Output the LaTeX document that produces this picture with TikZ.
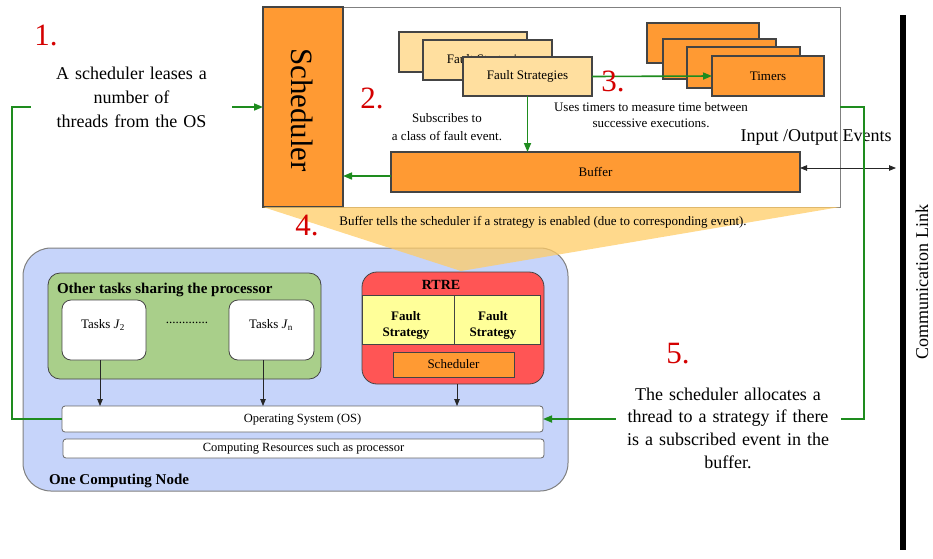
\documentclass[tikz,border=0pt]{standalone}
\usepackage{fontspec}
\setmainfont{Liberation Serif}
\usetikzlibrary{arrows.meta}

\definecolor{orangefill}{HTML}{FF9A33}
\definecolor{paleorange}{HTML}{FFDF9F}
\definecolor{calloutfill}{HTML}{FFCC66}
\definecolor{nodeblue}{HTML}{C6D4FA}
\definecolor{taskgreen}{HTML}{A9CF8A}
\definecolor{rtrered}{HTML}{FF5555}
\definecolor{cellyellow}{HTML}{FFFF99}
\definecolor{linkgreen}{HTML}{1E8C1E}
\definecolor{stepred}{HTML}{D40000}
\definecolor{edgegray}{HTML}{444444}
\definecolor{framegray}{HTML}{808080}

\newcommand\fsz[2]{\fontsize{#1}{#2}\selectfont}

\tikzset{
  every node/.style={inner sep=0pt, outer sep=0pt},
  rect/.style 2 args={minimum width=#1, minimum height=#2},
  framebox/.style={draw=framegray, line width=1pt, fill=white},
  orangebox/.style={draw=edgegray, line width=1.2pt, fill=orangefill, font=\fsz{13}{15}},
  palebox/.style={draw=edgegray, line width=1.2pt, fill=paleorange, font=\fsz{13}{15}},
  whitebox/.style={draw=edgegray!80, line width=0.8pt, fill=white, rounded corners=3pt, font=\fsz{12.5}{15}},
  taskbox/.style={draw=edgegray, line width=0.8pt, fill=white, rounded corners=9pt},
  greenline/.style={draw=linkgreen, line width=1.6pt},
  greentip/.style={-{Triangle[length=9pt,width=7pt]}},
  blackarrow/.style={draw=black!85, line width=0.8pt, -{Triangle[length=7pt,width=5.5pt]}},
  stepnum/.style={text=stepred, font=\fsz{31}{34}},
  note/.style={font=\fsz{13}{16}, align=center},
  bignote/.style={font=\fsz{18}{24}, align=center},
}

\begin{document}
\begin{tikzpicture}[x=1pt, y=-1pt]
\useasboundingbox (0,0) rectangle (933,558);

% ---------- expanded view of the run-time environment ----------
\node[framebox, rect={577pt}{200pt}] (zoom) at (551.5,107) {};
\node[orangebox, rect={80pt}{200pt}] (sched) at (303,107) {};
\node[rotate=-90, font=\fsz{31}{36}] (schedtext) at (302,110) {Scheduler};

% stacked fault strategies
\node[palebox, rect={128pt}{40pt}] (fs1) at (463,52) {Fault Strategies};
\node[palebox, rect={129pt}{40pt}] (fs2) at (487.5,60) {Fault Strategies};
\node[palebox, rect={129pt}{39pt}] (fs3) at (527.5,76.5) {Fault Strategies};

% stacked timers
\node[orangebox, rect={112pt}{40pt}] (t1) at (703,43) {Timers};
\node[orangebox, rect={113pt}{40pt}] (t2) at (719.5,59) {Timers};
\node[orangebox, rect={113pt}{41pt}] (t3) at (743.5,67.5) {Timers};
\node[orangebox, rect={112pt}{40pt}] (t4) at (768,76) {Timers};

% buffer
\node[orangebox, rect={409pt}{40pt}] (buffer) at (595.5,172) {Buffer};

% connectors inside the expanded view
\draw[greenline, greentip] (fs3.east) -- (t4.west);
\draw[greenline, greentip] (fs3.south) -- (fs3.south |- buffer.north);
\draw[greenline, greentip] (buffer.west |- 0,176) -- (sched.east |- 0,176);

\node[stepnum] (n2) at (372,98) {2.};
\node[stepnum] (n3) at (613,81) {3.};
\node[note, font=\fsz{13}{18}] (subs) at (447,127) {Subscribes to\\a class of fault event.};
\node[note] (uses) at (651,115) {Uses timers to measure time between\\successive executions.};

% ---------- communication link ----------
\node[fill=black, rect={6pt}{535pt}] (link) at (903,282.5) {};
\node[rotate=90, font=\fsz{18}{20}] (linktext) at (922,282) {Communication Link};
\node[font=\fsz{18}{20}] (iotext) at (816,137) {Input /Output Events};
\draw[draw=black!85, line width=0.8pt, {Triangle[length=7pt,width=5.5pt]}-{Triangle[length=7pt,width=5.5pt]}, shorten >=4pt]
  (buffer.east |- 0,168) -- (link.west |- 0,168);

% ---------- computing node ----------
\node[draw=framegray, line width=1pt, fill=nodeblue, rounded corners=28pt, rect={545pt}{243pt}] (cnode) at (295.5,369.5) {};

% callout linking the node to its expanded view
\coordinate (apex) at (461,271);
\fill[calloutfill, opacity=0.75] (zoom.south west) -- (zoom.south east) -- (apex) -- cycle;
\node[stepnum] (n4) at (307,226) {4.};
\node[note] (tells) at (543,222) {Buffer tells the scheduler if a strategy is enabled (due to corresponding event).};

\node[anchor=west, font=\bfseries\fsz{15}{17}] (cnodetitle) at (49,481) {One Computing Node};

% other tasks
\node[draw=edgegray, line width=0.8pt, fill=taskgreen, rounded corners=12pt, rect={273pt}{106pt}] (others) at (184.5,326) {};
\node[anchor=west, font=\bfseries\fsz{15}{17}] (otherstitle) at (57,290) {Other tasks sharing the processor};
\node[taskbox, rect={84pt}{60pt}] (j2) at (104,330) {};
\node[font=\fsz{13}{15}] (j2text) at (103,325) {Tasks \textit{J}\textsubscript{2}};
\node[taskbox, rect={85pt}{60pt}] (jn) at (271.5,330) {};
\node[font=\fsz{13}{15}] (jntext) at (271,325) {Tasks \textit{J}\textsubscript{n}};
\node[font=\fsz{13}{15}] (dots) at (187,323) {.............};

% RTRE
\node[draw=edgegray, line width=0.8pt, fill=rtrered, rounded corners=15pt, rect={182pt}{112pt}] (rtre) at (453,328) {};
\node[font=\bfseries\fsz{14}{16}] (rtretitle) at (441,285) {RTRE};
\node[draw=edgegray, line width=0.6pt, fill=cellyellow, rect={92pt}{49pt}] (cellA) at (408,319.5) {};
\node[draw=edgegray, line width=0.6pt, fill=cellyellow, rect={86pt}{49pt}] (cellB) at (497,319.5) {};
\node[font=\bfseries\fsz{13}{16}, align=center] (cellAtext) at (406,325) {Fault\\Strategy};
\node[font=\bfseries\fsz{13}{16}, align=center] (cellBtext) at (493,325) {Fault\\Strategy};
\node[orangebox, line width=1pt, rect={121pt}{25pt}] (rsched) at (453.5,364.5) {Scheduler};

% operating system and resources
\node[whitebox, rect={481pt}{26pt}] (os) at (302.5,419) {Operating System (OS)};
\node[whitebox, rect={481pt}{19pt}] (res) at (303.5,448.5) {Computing Resources such as processor};

\draw[blackarrow] ([xshift=-4pt]j2.south) -- ([xshift=-4pt]j2.south |- os.north);
\draw[blackarrow] ([xshift=-8.5pt]jn.south) -- ([xshift=-8.5pt]jn.south |- os.north);
\draw[blackarrow] ([xshift=4pt]rtre.south) -- ([xshift=4pt]rtre.south |- os.north);

% ---------- thread leasing and allocation loops ----------
\draw[greenline, greentip] (os.west) -- (12,419) -- (12,107) -- (sched.west |- 0,107);
\draw[greenline, greentip] (zoom.east |- 0,107) -- (864,107) -- (864,419) -- (os.east);

\node[stepnum] (n1) at (46,35) {1.};
\node[bignote, fill=white, text width=161pt, inner xsep=20pt, inner ysep=2pt] (lease) at (131.5,97.5)
  {A scheduler leases a\\number of\\threads from the OS};

\node[stepnum] (n5) at (678,354) {5.};
\node[bignote, font=\fsz{18}{22.7}, fill=white, text width=205pt, inner xsep=10pt, inner ysep=2pt] (alloc) at (728,428)
  {The scheduler allocates a\\thread to a strategy if there\\is a subscribed event in the\\buffer.};

\end{tikzpicture}
\end{document}
